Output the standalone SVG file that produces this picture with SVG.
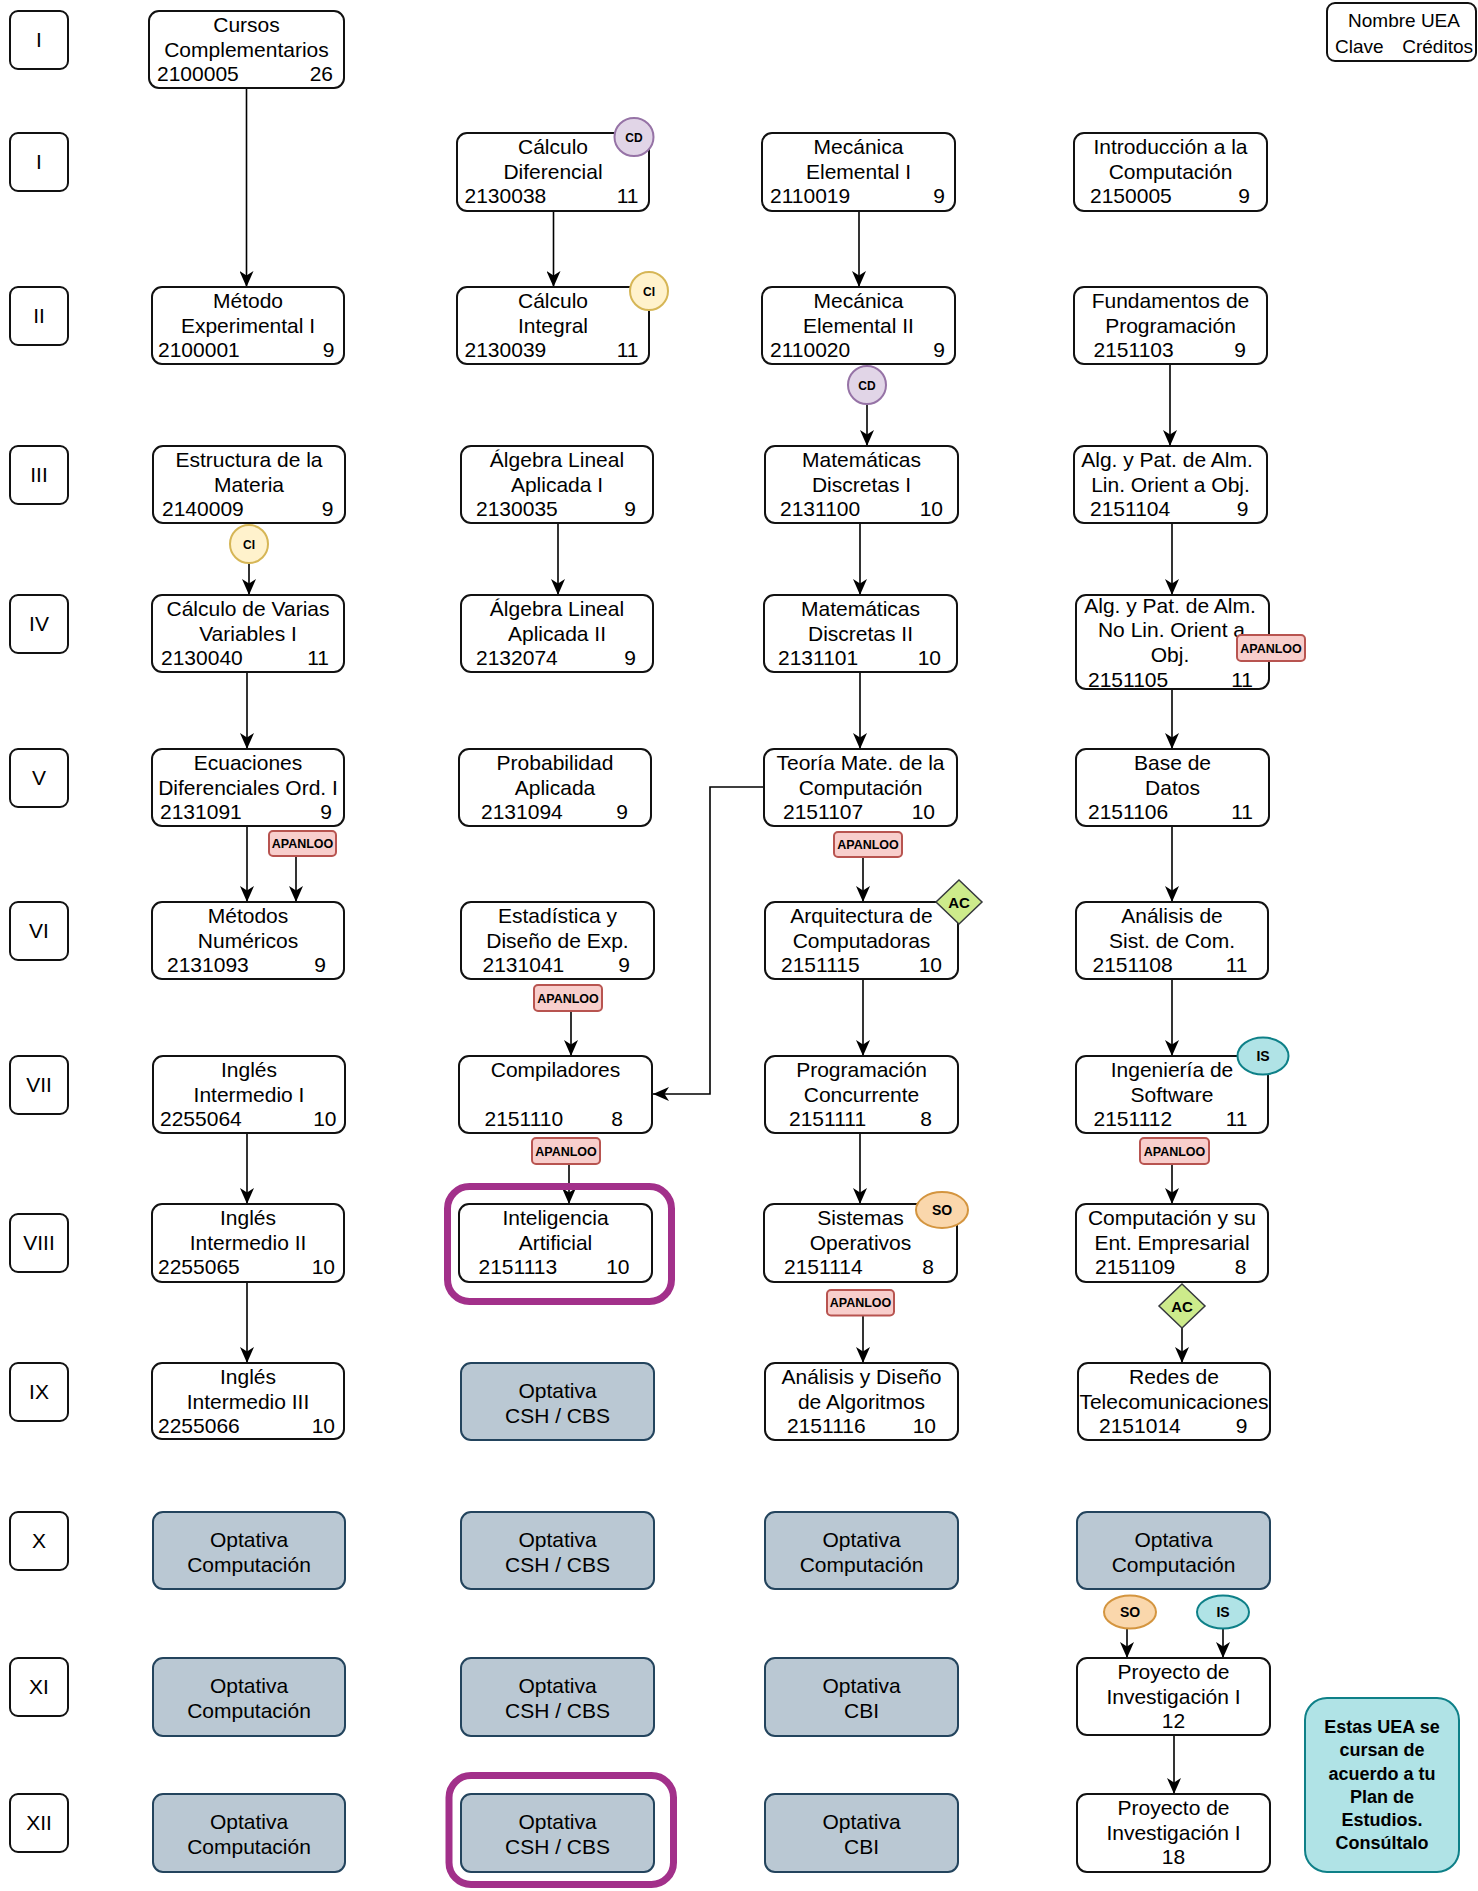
<svg xmlns="http://www.w3.org/2000/svg" width="1478" height="1891" viewBox="0 0 1478 1891">
<style>
.bg{fill:#fff}
.box{fill:#fff;stroke:#111;stroke-width:2}
.sem{fill:#fff;stroke:#111;stroke-width:2}
.opt{fill:#bac8d3;stroke:#23445d;stroke-width:2}
.t{font-family:"Liberation Sans",Arial,sans-serif;font-size:21px;fill:#000}
.m{text-anchor:middle}
.e{text-anchor:end}
.conn{fill:none;stroke:#000;stroke-width:1.6}
.ap{fill:#f8cecc;stroke:#b85450;stroke-width:2}
.apt{font-family:"Liberation Sans",Arial,sans-serif;font-size:12.5px;font-weight:bold;fill:#000;text-anchor:middle}
.bt{font-family:"Liberation Sans",Arial,sans-serif;font-weight:bold;fill:#000;text-anchor:middle}
.cd{fill:#e1d5e7;stroke:#9673a6;stroke-width:2}
.ci{fill:#fff2cc;stroke:#d6b656;stroke-width:2}
.ac{fill:#cdeb8b;stroke:#36393d;stroke-width:1.5}
.so{fill:#fad7ac;stroke:#d4953f;stroke-width:2}
.is{fill:#b0e3e6;stroke:#0e8088;stroke-width:2}
.hl{fill:none;stroke:#a2308a;stroke-width:7}
.note{fill:#b0e3e6;stroke:#0e8088;stroke-width:2}
</style>
<defs>
<marker id="arr" markerWidth="16" markerHeight="14" refX="16" refY="7" orient="auto" markerUnits="userSpaceOnUse">
<path d="M0,0 L16,7 L0,14 L4.5,7 Z" fill="#000"/>
</marker>
</defs>
<rect class="bg" x="0" y="0" width="1478" height="1891"/>

<g id="semesters">
<rect class="sem" x="10" y="11" width="58" height="58" rx="8"/><text class="t m" x="39" y="47">I</text>
<rect class="sem" x="10" y="133" width="58" height="58" rx="8"/><text class="t m" x="39" y="169">I</text>
<rect class="sem" x="10" y="287" width="58" height="58" rx="8"/><text class="t m" x="39" y="323">II</text>
<rect class="sem" x="10" y="446" width="58" height="58" rx="8"/><text class="t m" x="39" y="482">III</text>
<rect class="sem" x="10" y="595" width="58" height="58" rx="8"/><text class="t m" x="39" y="631">IV</text>
<rect class="sem" x="10" y="749" width="58" height="58" rx="8"/><text class="t m" x="39" y="785">V</text>
<rect class="sem" x="10" y="902" width="58" height="58" rx="8"/><text class="t m" x="39" y="938">VI</text>
<rect class="sem" x="10" y="1056" width="58" height="58" rx="8"/><text class="t m" x="39" y="1092">VII</text>
<rect class="sem" x="10" y="1214" width="58" height="58" rx="8"/><text class="t m" x="39" y="1250">VIII</text>
<rect class="sem" x="10" y="1363" width="58" height="58" rx="8"/><text class="t m" x="39" y="1399">IX</text>
<rect class="sem" x="10" y="1512" width="58" height="58" rx="8"/><text class="t m" x="39" y="1548">X</text>
<rect class="sem" x="10" y="1658" width="58" height="58" rx="8"/><text class="t m" x="39" y="1694">XI</text>
<rect class="sem" x="10" y="1794" width="58" height="58" rx="8"/><text class="t m" x="39" y="1830">XII</text>
</g>

<g id="legend">
<rect class="box" x="1327" y="3" width="149" height="58" rx="8"/>
<text class="t m" x="1404" y="27" style="font-size:19px">Nombre UEA</text>
<text class="t" x="1335" y="53" style="font-size:19px">Clave</text>
<text class="t e" x="1473" y="53" style="font-size:19px">Créditos</text>
</g>

<g id="connectors">
<line class="conn" x1="246.5" y1="88" x2="246.5" y2="287" marker-end="url(#arr)"/>
<line class="conn" x1="553.5" y1="211" x2="553.5" y2="287" marker-end="url(#arr)"/>
<line class="conn" x1="859" y1="211" x2="859" y2="287" marker-end="url(#arr)"/>
<line class="conn" x1="1170" y1="364" x2="1170" y2="446" marker-end="url(#arr)"/>
<line class="conn" x1="867" y1="404" x2="867" y2="446" marker-end="url(#arr)"/>
<line class="conn" x1="249" y1="563" x2="249" y2="595" marker-end="url(#arr)"/>
<line class="conn" x1="558" y1="523" x2="558" y2="595" marker-end="url(#arr)"/>
<line class="conn" x1="860" y1="523" x2="860" y2="595" marker-end="url(#arr)"/>
<line class="conn" x1="1172" y1="523" x2="1172" y2="595" marker-end="url(#arr)"/>
<line class="conn" x1="247" y1="672" x2="247" y2="749" marker-end="url(#arr)"/>
<line class="conn" x1="860" y1="672" x2="860" y2="749" marker-end="url(#arr)"/>
<line class="conn" x1="1172" y1="689" x2="1172" y2="749" marker-end="url(#arr)"/>
<line class="conn" x1="247" y1="826" x2="247" y2="902" marker-end="url(#arr)"/>
<line class="conn" x1="296" y1="856" x2="296" y2="902" marker-end="url(#arr)"/>
<line class="conn" x1="863" y1="857" x2="863" y2="902" marker-end="url(#arr)"/>
<line class="conn" x1="1172" y1="826" x2="1172" y2="902" marker-end="url(#arr)"/>
<polyline class="conn" points="764,787 710,787 710,1094 653,1094" marker-end="url(#arr)"/>
<line class="conn" x1="571" y1="1011" x2="571" y2="1056" marker-end="url(#arr)"/>
<line class="conn" x1="863" y1="979" x2="863" y2="1056" marker-end="url(#arr)"/>
<line class="conn" x1="1172" y1="979" x2="1172" y2="1056" marker-end="url(#arr)"/>
<line class="conn" x1="247" y1="1133" x2="247" y2="1204" marker-end="url(#arr)"/>
<line class="conn" x1="569" y1="1164" x2="569" y2="1204" marker-end="url(#arr)"/>
<line class="conn" x1="860" y1="1133" x2="860" y2="1204" marker-end="url(#arr)"/>
<line class="conn" x1="1172" y1="1164" x2="1172" y2="1204" marker-end="url(#arr)"/>
<line class="conn" x1="247" y1="1282" x2="247" y2="1363" marker-end="url(#arr)"/>
<line class="conn" x1="863" y1="1315" x2="863" y2="1363" marker-end="url(#arr)"/>
<line class="conn" x1="1182" y1="1328" x2="1182" y2="1363" marker-end="url(#arr)"/>
<line class="conn" x1="1127" y1="1628" x2="1127" y2="1658" marker-end="url(#arr)"/>
<line class="conn" x1="1223" y1="1628" x2="1223" y2="1658" marker-end="url(#arr)"/>
<line class="conn" x1="1174" y1="1735" x2="1174" y2="1794" marker-end="url(#arr)"/>
</g>

<!-- Column A -->
<g id="n2100005"><rect class="box" x="149" y="11" width="195" height="77" rx="10"/>
<text class="t m" x="246.5" y="32">Cursos</text><text class="t m" x="246.5" y="57">Complementarios</text>
<text class="t" x="157" y="81">2100005</text><text class="t e" x="333" y="81">26</text></g>
<g id="n2100001"><rect class="box" x="152" y="287" width="192" height="77" rx="10"/>
<text class="t m" x="248" y="308">Método</text><text class="t m" x="248" y="333">Experimental I</text>
<text class="t" x="158" y="357">2100001</text><text class="t e" x="334.5" y="357">9</text></g>
<g id="n2140009"><rect class="box" x="153" y="446" width="192" height="77" rx="10"/>
<text class="t m" x="249" y="467">Estructura de la</text><text class="t m" x="249" y="492">Materia</text>
<text class="t" x="162" y="516">2140009</text><text class="t e" x="333.5" y="516">9</text></g>
<g id="n2130040"><rect class="box" x="152" y="595" width="192" height="77" rx="10"/>
<text class="t m" x="248" y="616">Cálculo de Varias</text><text class="t m" x="248" y="641">Variables I</text>
<text class="t" x="161" y="665">2130040</text><text class="t e" x="329" y="665">11</text></g>
<g id="n2131091"><rect class="box" x="152" y="749" width="192" height="77" rx="10"/>
<text class="t m" x="248" y="770">Ecuaciones</text><text class="t m" x="248" y="795">Diferenciales Ord. I</text>
<text class="t" x="160" y="819">2131091</text><text class="t e" x="332" y="819">9</text></g>
<g id="n2131093"><rect class="box" x="152" y="902" width="192" height="77" rx="10"/>
<text class="t m" x="248" y="923">Métodos</text><text class="t m" x="248" y="948">Numéricos</text>
<text class="t" x="167" y="972">2131093</text><text class="t e" x="326" y="972">9</text></g>
<g id="n2255064"><rect class="box" x="153" y="1056" width="192" height="77" rx="10"/>
<text class="t m" x="249" y="1077">Inglés</text><text class="t m" x="249" y="1102">Intermedio I</text>
<text class="t" x="160" y="1126">2255064</text><text class="t e" x="336.5" y="1126">10</text></g>
<g id="n2255065"><rect class="box" x="152" y="1204" width="192" height="78" rx="10"/>
<text class="t m" x="248" y="1225">Inglés</text><text class="t m" x="248" y="1250">Intermedio II</text>
<text class="t" x="158" y="1274">2255065</text><text class="t e" x="335" y="1274">10</text></g>
<g id="n2255066"><rect class="box" x="152" y="1363" width="192" height="76" rx="10"/>
<text class="t m" x="248" y="1384">Inglés</text><text class="t m" x="248" y="1409">Intermedio III</text>
<text class="t" x="158" y="1433">2255066</text><text class="t e" x="335" y="1433">10</text></g>
<g id="optA10"><rect class="opt" x="153" y="1512" width="192" height="77" rx="10"/>
<text class="t m" x="249" y="1547">Optativa</text><text class="t m" x="249" y="1572">Computación</text></g>
<g id="optA11"><rect class="opt" x="153" y="1658" width="192" height="78" rx="10"/>
<text class="t m" x="249" y="1693">Optativa</text><text class="t m" x="249" y="1718">Computación</text></g>
<g id="optA12"><rect class="opt" x="153" y="1794" width="192" height="78" rx="10"/>
<text class="t m" x="249" y="1829">Optativa</text><text class="t m" x="249" y="1854">Computación</text></g>

<!-- Column B -->
<g id="n2130038"><rect class="box" x="457" y="133" width="192" height="78" rx="10"/>
<text class="t m" x="553" y="154">Cálculo</text><text class="t m" x="553" y="179">Diferencial</text>
<text class="t" x="464.5" y="203">2130038</text><text class="t e" x="638.5" y="203">11</text></g>
<g id="n2130039"><rect class="box" x="457" y="287" width="192" height="77" rx="10"/>
<text class="t m" x="553" y="308">Cálculo</text><text class="t m" x="553" y="333">Integral</text>
<text class="t" x="464.5" y="357">2130039</text><text class="t e" x="638.5" y="357">11</text></g>
<g id="n2130035"><rect class="box" x="461" y="446" width="192" height="77" rx="10"/>
<text class="t m" x="557" y="467">Álgebra Lineal</text><text class="t m" x="557" y="492">Aplicada I</text>
<text class="t" x="476" y="516">2130035</text><text class="t e" x="636" y="516">9</text></g>
<g id="n2132074"><rect class="box" x="461" y="595" width="192" height="77" rx="10"/>
<text class="t m" x="557" y="616">Álgebra Lineal</text><text class="t m" x="557" y="641">Aplicada II</text>
<text class="t" x="476" y="665">2132074</text><text class="t e" x="636" y="665">9</text></g>
<g id="n2131094"><rect class="box" x="459" y="749" width="192" height="77" rx="10"/>
<text class="t m" x="555" y="770">Probabilidad</text><text class="t m" x="555" y="795">Aplicada</text>
<text class="t" x="481" y="819">2131094</text><text class="t e" x="628" y="819">9</text></g>
<g id="n2131041"><rect class="box" x="461" y="902" width="193" height="77" rx="10"/>
<text class="t m" x="557.5" y="923">Estadística y</text><text class="t m" x="557.5" y="948">Diseño de Exp.</text>
<text class="t" x="482.5" y="972">2131041</text><text class="t e" x="630" y="972">9</text></g>
<g id="n2151110"><rect class="box" x="459" y="1056" width="193" height="77" rx="10"/>
<text class="t m" x="555.5" y="1077">Compiladores</text>
<text class="t" x="484.5" y="1126">2151110</text><text class="t e" x="623" y="1126">8</text></g>
<g id="n2151113"><rect class="box" x="459" y="1204" width="193" height="78" rx="10"/>
<text class="t m" x="555.5" y="1225">Inteligencia</text><text class="t m" x="555.5" y="1250">Artificial</text>
<text class="t" x="478.5" y="1274">2151113</text><text class="t e" x="629.5" y="1274">10</text></g>
<g id="optB9"><rect class="opt" x="461" y="1363" width="193" height="77" rx="10"/>
<text class="t m" x="557.5" y="1398">Optativa</text><text class="t m" x="557.5" y="1423">CSH / CBS</text></g>
<g id="optB10"><rect class="opt" x="461" y="1512" width="193" height="77" rx="10"/>
<text class="t m" x="557.5" y="1547">Optativa</text><text class="t m" x="557.5" y="1572">CSH / CBS</text></g>
<g id="optB11"><rect class="opt" x="461" y="1658" width="193" height="78" rx="10"/>
<text class="t m" x="557.5" y="1693">Optativa</text><text class="t m" x="557.5" y="1718">CSH / CBS</text></g>
<g id="optB12"><rect class="opt" x="461" y="1794" width="193" height="78" rx="10"/>
<text class="t m" x="557.5" y="1829">Optativa</text><text class="t m" x="557.5" y="1854">CSH / CBS</text></g>

<!-- Column C -->
<g id="n2110019"><rect class="box" x="762" y="133" width="193" height="78" rx="10"/>
<text class="t m" x="858.5" y="154">Mecánica</text><text class="t m" x="858.5" y="179">Elemental I</text>
<text class="t" x="770" y="203">2110019</text><text class="t e" x="945" y="203">9</text></g>
<g id="n2110020"><rect class="box" x="762" y="287" width="193" height="77" rx="10"/>
<text class="t m" x="858.5" y="308">Mecánica</text><text class="t m" x="858.5" y="333">Elemental II</text>
<text class="t" x="770" y="357">2110020</text><text class="t e" x="945" y="357">9</text></g>
<g id="n2131100"><rect class="box" x="765" y="446" width="193" height="77" rx="10"/>
<text class="t m" x="861.5" y="467">Matemáticas</text><text class="t m" x="861.5" y="492">Discretas I</text>
<text class="t" x="780" y="516">2131100</text><text class="t e" x="943" y="516">10</text></g>
<g id="n2131101"><rect class="box" x="764" y="595" width="193" height="77" rx="10"/>
<text class="t m" x="860.5" y="616">Matemáticas</text><text class="t m" x="860.5" y="641">Discretas II</text>
<text class="t" x="778" y="665">2131101</text><text class="t e" x="941" y="665">10</text></g>
<g id="n2151107"><rect class="box" x="764" y="749" width="193" height="77" rx="10"/>
<text class="t m" x="860.5" y="770">Teoría Mate. de la</text><text class="t m" x="860.5" y="795">Computación</text>
<text class="t" x="783" y="819">2151107</text><text class="t e" x="935" y="819">10</text></g>
<g id="n2151115"><rect class="box" x="765" y="902" width="193" height="77" rx="10"/>
<text class="t m" x="861.5" y="923">Arquitectura de</text><text class="t m" x="861.5" y="948">Computadoras</text>
<text class="t" x="781" y="972">2151115</text><text class="t e" x="942" y="972">10</text></g>
<g id="n2151111"><rect class="box" x="765" y="1056" width="193" height="77" rx="10"/>
<text class="t m" x="861.5" y="1077">Programación</text><text class="t m" x="861.5" y="1102">Concurrente</text>
<text class="t" x="789" y="1126">2151111</text><text class="t e" x="932" y="1126">8</text></g>
<g id="n2151114"><rect class="box" x="764" y="1204" width="193" height="78" rx="10"/>
<text class="t m" x="860.5" y="1225">Sistemas</text><text class="t m" x="860.5" y="1250">Operativos</text>
<text class="t" x="784" y="1274">2151114</text><text class="t e" x="934" y="1274">8</text></g>
<g id="n2151116"><rect class="box" x="765" y="1363" width="193" height="77" rx="10"/>
<text class="t m" x="861.5" y="1384">Análisis y Diseño</text><text class="t m" x="861.5" y="1409">de Algoritmos</text>
<text class="t" x="787" y="1433">2151116</text><text class="t e" x="936" y="1433">10</text></g>
<g id="optC10"><rect class="opt" x="765" y="1512" width="193" height="77" rx="10"/>
<text class="t m" x="861.5" y="1547">Optativa</text><text class="t m" x="861.5" y="1572">Computación</text></g>
<g id="optC11"><rect class="opt" x="765" y="1658" width="193" height="78" rx="10"/>
<text class="t m" x="861.5" y="1693">Optativa</text><text class="t m" x="861.5" y="1718">CBI</text></g>
<g id="optC12"><rect class="opt" x="765" y="1794" width="193" height="78" rx="10"/>
<text class="t m" x="861.5" y="1829">Optativa</text><text class="t m" x="861.5" y="1854">CBI</text></g>

<!-- Column D -->
<g id="n2150005"><rect class="box" x="1074" y="133" width="193" height="78" rx="10"/>
<text class="t m" x="1170.5" y="154">Introducción a la</text><text class="t m" x="1170.5" y="179">Computación</text>
<text class="t" x="1090" y="203">2150005</text><text class="t e" x="1250" y="203">9</text></g>
<g id="n2151103"><rect class="box" x="1074" y="287" width="193" height="77" rx="10"/>
<text class="t m" x="1170.5" y="308">Fundamentos de</text><text class="t m" x="1170.5" y="333">Programación</text>
<text class="t" x="1093.5" y="357">2151103</text><text class="t e" x="1246" y="357">9</text></g>
<g id="n2151104"><rect class="box" x="1074" y="446" width="193" height="77" rx="10"/>
<text class="t m" x="1167" y="467">Alg. y Pat. de Alm.</text><text class="t m" x="1170.5" y="492">Lin. Orient a Obj.</text>
<text class="t" x="1090" y="516">2151104</text><text class="t e" x="1248.5" y="516">9</text></g>
<g id="n2151105"><rect class="box" x="1076" y="595" width="193" height="94" rx="10"/>
<text class="t m" x="1170" y="613">Alg. y Pat. de Alm.</text><text class="t m" x="1171.5" y="637">No Lin. Orient a</text>
<text class="t m" x="1170" y="662">Obj.</text>
<text class="t" x="1088" y="687">2151105</text><text class="t e" x="1253" y="687">11</text></g>
<g id="n2151106"><rect class="box" x="1076" y="749" width="193" height="77" rx="10"/>
<text class="t m" x="1172.5" y="770">Base de</text><text class="t m" x="1172.5" y="795">Datos</text>
<text class="t" x="1088" y="819">2151106</text><text class="t e" x="1253" y="819">11</text></g>
<g id="n2151108"><rect class="box" x="1076" y="902" width="192" height="77" rx="10"/>
<text class="t m" x="1172" y="923">Análisis de</text><text class="t m" x="1172" y="948">Sist. de Com.</text>
<text class="t" x="1092.5" y="972">2151108</text><text class="t e" x="1247.5" y="972">11</text></g>
<g id="n2151112"><rect class="box" x="1076" y="1056" width="192" height="77" rx="10"/>
<text class="t m" x="1172" y="1077">Ingeniería de</text><text class="t m" x="1172" y="1102">Software</text>
<text class="t" x="1093.5" y="1126">2151112</text><text class="t e" x="1247.5" y="1126">11</text></g>
<g id="n2151109"><rect class="box" x="1076" y="1204" width="192" height="78" rx="10"/>
<text class="t m" x="1172" y="1225">Computación y su</text><text class="t m" x="1172" y="1250">Ent. Empresarial</text>
<text class="t" x="1095" y="1274">2151109</text><text class="t e" x="1246.5" y="1274">8</text></g>
<g id="n2151014"><rect class="box" x="1078" y="1363" width="192" height="77" rx="10"/>
<text class="t m" x="1174" y="1384">Redes de</text><text class="t m" x="1174" y="1409">Telecomunicaciones</text>
<text class="t" x="1099" y="1433">2151014</text><text class="t e" x="1247.5" y="1433">9</text></g>
<g id="optD10"><rect class="opt" x="1077" y="1512" width="193" height="77" rx="10"/>
<text class="t m" x="1173.5" y="1547">Optativa</text><text class="t m" x="1173.5" y="1572">Computación</text></g>
<g id="proy1"><rect class="box" x="1077" y="1658" width="193" height="77" rx="10"/>
<text class="t m" x="1173.5" y="1679">Proyecto de</text><text class="t m" x="1173.5" y="1704">Investigación I</text>
<text class="t m" x="1173.5" y="1728">12</text></g>
<g id="proy2"><rect class="box" x="1077" y="1794" width="193" height="78" rx="10"/>
<text class="t m" x="1173.5" y="1815">Proyecto de</text><text class="t m" x="1173.5" y="1840">Investigación I</text>
<text class="t m" x="1173.5" y="1864">18</text></g>

<!-- Badges -->
<g id="badges">
<ellipse class="cd" cx="634" cy="137" rx="19.5" ry="19"/><text class="bt" x="634" y="141.5" style="font-size:12px">CD</text>
<ellipse class="ci" cx="649" cy="291" rx="19" ry="19"/><text class="bt" x="649" y="295.5" style="font-size:12px">CI</text>
<ellipse class="cd" cx="867" cy="385" rx="19" ry="19"/><text class="bt" x="867" y="389.5" style="font-size:12px">CD</text>
<ellipse class="ci" cx="249" cy="544" rx="19" ry="19"/><text class="bt" x="249" y="548.5" style="font-size:12px">CI</text>
<rect class="ap" x="1237" y="635" width="68" height="26" rx="4"/><text class="apt" x="1271" y="652.5">APANLOO</text>
<rect class="ap" x="269" y="831" width="67" height="25" rx="4"/><text class="apt" x="302.5" y="848">APANLOO</text>
<rect class="ap" x="834" y="832" width="68" height="25" rx="4"/><text class="apt" x="868" y="849">APANLOO</text>
<path class="ac" d="M959,880 L982,902 L959,924 L936,902 Z"/><text class="bt" x="959" y="908" style="font-size:15px">AC</text>
<rect class="ap" x="534" y="985" width="68" height="26" rx="4"/><text class="apt" x="568" y="1002.5">APANLOO</text>
<ellipse class="is" cx="1263" cy="1056" rx="25.5" ry="18.5"/><text class="bt" x="1263" y="1061" style="font-size:14px">IS</text>
<rect class="ap" x="532" y="1138" width="68" height="26" rx="4"/><text class="apt" x="566" y="1155.5">APANLOO</text>
<rect class="ap" x="1140" y="1138" width="69" height="26" rx="4"/><text class="apt" x="1174.5" y="1155.5">APANLOO</text>
<ellipse class="so" cx="942" cy="1210" rx="26" ry="18"/><text class="bt" x="942" y="1215" style="font-size:14px">SO</text>
<rect class="ap" x="827" y="1290" width="67" height="25.5" rx="4"/><text class="apt" x="860.5" y="1307">APANLOO</text>
<path class="ac" d="M1182,1284 L1205,1306 L1182,1328 L1159,1306 Z"/><text class="bt" x="1182" y="1312" style="font-size:15px">AC</text>
<ellipse class="so" cx="1130" cy="1612" rx="26" ry="16.5"/><text class="bt" x="1130" y="1617" style="font-size:14px">SO</text>
<ellipse class="is" cx="1223" cy="1612" rx="26" ry="16.5"/><text class="bt" x="1223" y="1617" style="font-size:14px">IS</text>
</g>

<g id="highlights">
<rect class="hl" x="447.5" y="1186.5" width="224" height="115" rx="22"/>
<rect class="hl" x="449" y="1775.5" width="224.5" height="109" rx="22"/>
</g>

<g id="note">
<rect class="note" x="1305" y="1698" width="154" height="174" rx="22"/>
<text class="bt" x="1382" y="1733" style="font-size:18px">Estas UEA se</text>
<text class="bt" x="1382" y="1756" style="font-size:18px">cursan de</text>
<text class="bt" x="1382" y="1780" style="font-size:18px">acuerdo a tu</text>
<text class="bt" x="1382" y="1803" style="font-size:18px">Plan de</text>
<text class="bt" x="1382" y="1826" style="font-size:18px">Estudios.</text>
<text class="bt" x="1382" y="1849" style="font-size:18px">Consúltalo</text>
</g>
</svg>
